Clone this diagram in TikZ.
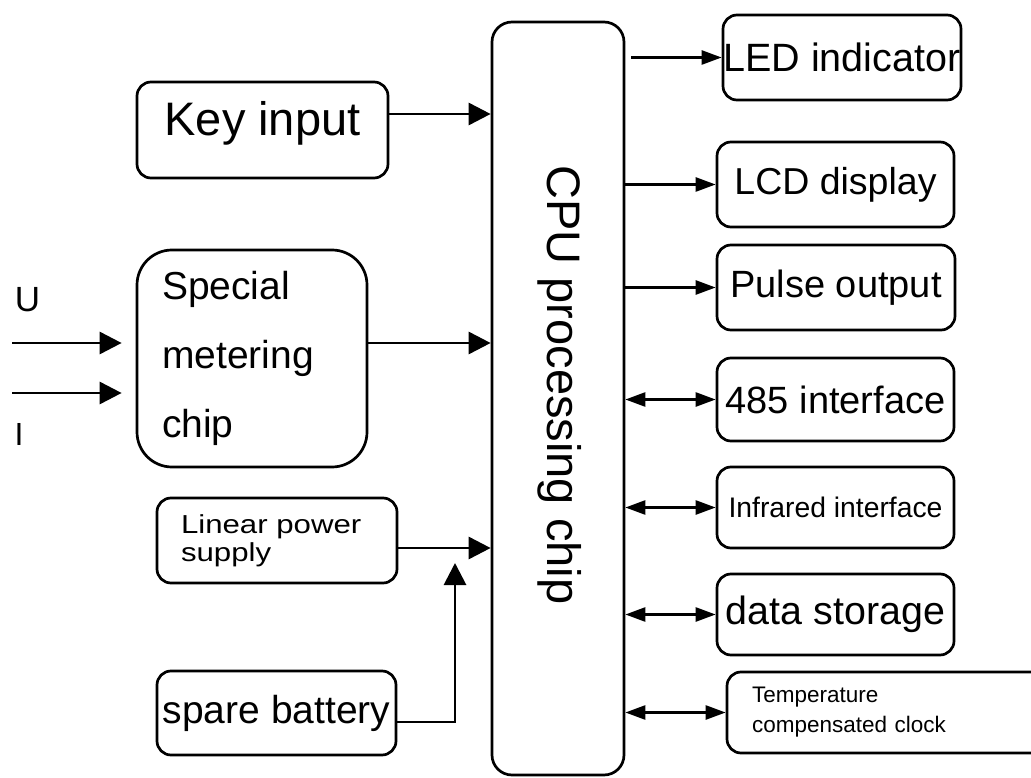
\documentclass[tikz,border=0pt]{standalone}
\usepackage{fontspec}
\setmainfont{Liberation Sans}
\newfontfamily\widefont[FakeStretch=1.2]{Liberation Sans}
\usetikzlibrary{arrows.meta}
\tikzset{
  blk/.style={draw,line width=2.7pt,rounded corners=14pt,inner sep=0pt},
  arr/.style={line width=2.9pt,-{Triangle[length=22pt,width=22pt]}},
  rarr/.style={line width=2.6pt,-{Triangle[length=20pt,width=14pt]}},
  darr/.style={line width=2.6pt,{Triangle[length=20pt,width=14pt]}-{Triangle[length=20pt,width=14pt]}}
}
\begin{document}
\begin{tikzpicture}[x=1pt,y=-1pt]
  \clip (0,0) rectangle (1031,778);
  \fill[white] (0,0) rectangle (1031,778);
  % processor in the middle
  \node[blk,rounded corners=20pt,minimum width=132pt,minimum height=753pt] (cpu) at (558,398.5) {};
  \node[rotate=-90,font=\fontsize{47}{56}\selectfont] (cputxt) at (560,385) {CPU processing chip};
  % left side
  \node[blk,minimum width=251pt,minimum height=96pt,text depth=24pt,font=\fontsize{47}{56}\selectfont] (key) at (262.5,130) {Key input};
  \node[blk,rounded corners=35pt,minimum width=230pt,minimum height=217pt,text width=180pt,align=left,
        font=\fontsize{39}{69}\selectfont] (meter) at (252,358.5) {Special\\metering\\chip};
  \node[blk,minimum width=240pt,minimum height=85pt,text width=192pt,align=left,
        font=\widefont\fontsize{26}{28}\selectfont] (linear) at (277,540.5) {Linear power\\supply};
  \node[blk,minimum width=239pt,minimum height=84pt,font=\fontsize{39}{47}\selectfont] (battery) at (276.5,713) {spare battery};
  \node[font=\fontsize{35}{42}\selectfont] (ulab) at (27.5,300) {U};
  \node[font=\fontsize{32}{40}\selectfont] (ilab) at (19,434) {I};
  % right side
  \node[blk,minimum width=238pt,minimum height=85pt,font=\fontsize{39.5}{47}\selectfont] (led) at (842,57.5) {LED indicator};
  \node[blk,minimum width=237pt,minimum height=85pt,font=\fontsize{37.5}{45}\selectfont] (lcd) at (835.5,184.5) {LCD display};
  \node[blk,minimum width=238pt,minimum height=85pt,font=\fontsize{38}{45}\selectfont] (pulse) at (836,287.5) {Pulse output};
  \node[blk,minimum width=237pt,minimum height=83pt,font=\fontsize{38}{45}\selectfont] (i485) at (835.5,399.5) {485 interface};
  \node[blk,minimum width=237pt,minimum height=81pt,font=\fontsize{28.3}{34}\selectfont] (ir) at (835.5,507.5) {Infrared interface};
  \node[blk,minimum width=237pt,minimum height=81pt,font=\fontsize{39.4}{47}\selectfont] (store) at (835.5,614.5) {data storage};
  \node[blk,minimum width=318pt,minimum height=81pt,text width=268pt,align=left,
        font=\fontsize{22.5}{30}\selectfont] (clock) at (886,712.5) {Temperature\\compensated clock};
  % connectors
  \coordinate (ky) at (0,114);
  \coordinate (my) at (0,343);
  \coordinate (ly) at (0,548);
  \coordinate (by) at (0,722);
  \coordinate (bj) at (455,563);
  \coordinate (u0) at (12,343);
  \coordinate (i0) at (12,393);
  \draw[arr] (key.east |- ky) -- (cpu.west |- ky);
  \draw[arr] (meter.east |- my) -- (cpu.west |- my);
  \draw[arr] (linear.east |- ly) -- (cpu.west |- ly);
  \draw[arr] (battery.east |- by) -| (bj);
  \draw[arr,shorten >=14pt] (u0) -- (u0 -| meter.west);
  \draw[arr,shorten >=14pt] (i0) -- (i0 -| meter.west);
  \draw[rarr,shorten <=6pt] (cpu.east |- led.west) -- (led.west);
  \draw[rarr] (cpu.east |- lcd.west) -- (lcd.west);
  \draw[rarr] (cpu.east |- pulse.west) -- (pulse.west);
  \foreach \n in {i485,ir,store,clock}
    \draw[darr] (cpu.east |- \n.west) -- (\n.west);
\end{tikzpicture}
\end{document}
